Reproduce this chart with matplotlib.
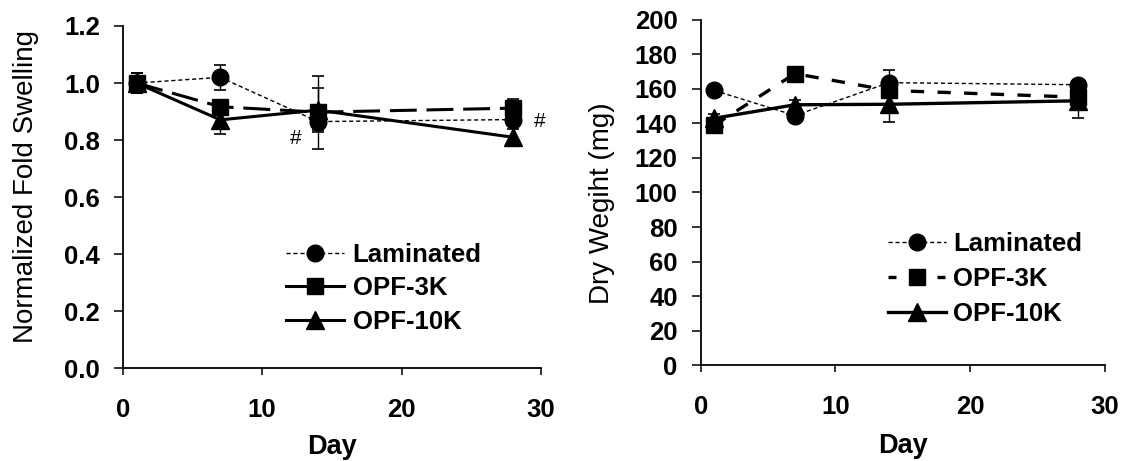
import matplotlib
matplotlib.use('Agg')
import matplotlib.pyplot as plt
from matplotlib.lines import Line2D

# ---- data ----
days = [1, 7, 14, 28]
series_labels = ['Laminated', 'OPF-3K', 'OPF-10K']

swell_lam = [1.0, 1.02, 0.865, 0.872]
swell_lam_err = [0.035, 0.043, 0.03, 0.02]
swell_3k = [1.0, 0.917, 0.898, 0.912]
swell_3k_err = [0.035, 0.02, 0.128, 0.032]
swell_10k = [1.0, 0.871, 0.905, 0.81]
swell_10k_err = [0.035, 0.05, 0.078, 0.03]

weight_lam = [159.0, 144.5, 163.5, 162.3]
weight_lam_err = [2.0, 2.0, 7.5, 2.0]
weight_3k = [138.8, 168.7, 159.0, 155.1]
weight_3k_err = [2.0, 2.0, 3.0, 3.0]
weight_10k = [142.9, 150.7, 151.0, 153.0]
weight_10k_err = [2.5, 2.5, 10.5, 10.0]

hash_marks = [(12.4, 0.805), (29.9, 0.865)]

left_yticks = [0.0, 0.2, 0.4, 0.6, 0.8, 1.0, 1.2]
right_yticks = list(range(0, 201, 20))
xticks = [0, 10, 20, 30]

FONT = 'Liberation Sans'
plt.rcParams['font.family'] = [FONT, 'DejaVu Sans']

fig = plt.figure(figsize=(11.31, 4.61), dpi=100)
ax1 = fig.add_axes([0.1085, 0.2007, 0.3699, 0.743])
ax2 = fig.add_axes([0.6195, 0.2072, 0.3572, 0.7505])

tick_font = dict(family=FONT, weight='bold', size=18.5)


def style_axes(ax, yticks, fmt):
    for s in ['top', 'right']:
        ax.spines[s].set_visible(False)
    for s in ['left', 'bottom']:
        ax.spines[s].set_linewidth(1.3)
    ax.set_xlim(0, 30)
    ax.set_xticks(xticks)
    ax.set_yticks(yticks)
    ax.set_yticklabels([fmt(v) for v in yticks], fontdict=tick_font)
    ax.set_xticklabels([str(v) for v in xticks], fontdict=tick_font)
    ax.tick_params(axis='y', direction='out', length=6.5, width=1.1, pad=10)
    ax.tick_params(axis='x', direction='out', length=5, width=1.1, pad=16)


def draw(ax, vals, errs, marker, ms, lw, ls, z):
    ax.errorbar(days, vals, yerr=errs, fmt='none', ecolor='black',
                elinewidth=1.0, capsize=4, capthick=1.2, zorder=z)
    ax.plot(days, vals, color='black', lw=lw, ls=ls, marker=marker, ms=ms,
            zorder=z + 0.5, markeredgecolor='black', markerfacecolor='black',
            clip_on=False)


LAM_LS = (0, (3, 2))
# ---- left panel ----
draw(ax1, swell_10k, swell_10k_err, '^', 13, 2.2, '-', 3)
draw(ax1, swell_3k, swell_3k_err, 's', 11.5, 2.2, (0, (8.8, 3.2)), 4)
draw(ax1, swell_lam, swell_lam_err, 'o', 12, 1.0, LAM_LS, 5)
ax1.set_ylim(0, 1.2)
style_axes(ax1, left_yticks, lambda v: f'{v:.1f}')
for hx, hy in hash_marks:
    ax1.text(hx, hy, '#', ha='center', va='center', fontsize=15, family=FONT)
ax1.set_ylabel('Normalized Fold Swelling', fontsize=20, family=FONT)
ax1.yaxis.set_label_coords(-0.200, 0.53)
ax1.set_xlabel('Day', fontsize=19.5, family=FONT, weight='bold')
ax1.xaxis.set_label_coords(0.5, -0.19)

h1 = [Line2D([], [], color='black', lw=1.0, ls=LAM_LS, marker='o', ms=12),
      Line2D([], [], color='black', lw=2.2, marker='s', ms=11.5),
      Line2D([], [], color='black', lw=2.2, marker='^', ms=13)]
ax1.legend(h1, series_labels, loc='upper left', bbox_to_anchor=(0.39, 0.366),
           frameon=False, prop=dict(family=FONT, weight='bold', size=18.5),
           handlelength=2.25, handletextpad=0.35, labelspacing=0.36,
           borderpad=0, borderaxespad=0)

# ---- right panel ----
draw(ax2, weight_10k, weight_10k_err, '^', 13, 2.4, '-', 3)
draw(ax2, weight_3k, weight_3k_err, 's', 11.5, 2.4, (0, (4, 4)), 4)
draw(ax2, weight_lam, weight_lam_err, 'o', 12, 1.0, LAM_LS, 5)
ax2.set_ylim(0, 200)
style_axes(ax2, right_yticks, lambda v: f'{v:d}')
ax2.set_ylabel('Dry Wegiht (mg)', fontsize=20, family=FONT)
ax2.yaxis.set_label_coords(-0.213, 0.47)
ax2.set_xlabel('Day', fontsize=19.5, family=FONT, weight='bold')
ax2.xaxis.set_label_coords(0.5, -0.195)

h2 = [Line2D([], [], color='black', lw=1.0, ls=LAM_LS, marker='o', ms=12),
      Line2D([], [], color='black', lw=2.4, ls=(0, (2.4, 12.3)), marker='s', ms=11.5),
      Line2D([], [], color='black', lw=2.4, marker='^', ms=13)]
ax2.legend(h2, series_labels, loc='upper left', bbox_to_anchor=(0.4636, 0.385),
           frameon=False, prop=dict(family=FONT, weight='bold', size=18.5),
           handlelength=2.25, handletextpad=0.3, labelspacing=0.42,
           borderpad=0, borderaxespad=0)

fig.savefig('out.png', dpi=100)
